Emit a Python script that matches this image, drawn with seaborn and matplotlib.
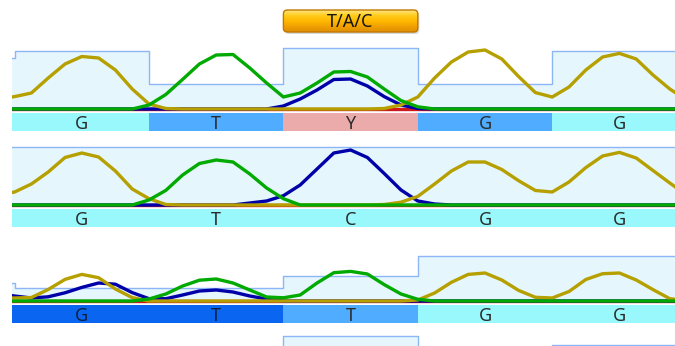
import numpy as np
import matplotlib
matplotlib.use("Agg")
import matplotlib.pyplot as plt
import seaborn as sns
from matplotlib.patches import FancyBboxPatch
from matplotlib.colors import LinearSegmentedColormap

# ---------------- data ----------------
# scan positions in base-call units (8 scans per base), first scan is left of the view
scan = np.arange(-1, 41) / 8.0

# trace heights (px above the track baseline)
t1_A = [0] * 42
t1_C = [0] * 17 + [3, 10, 19, 29.5, 30, 23, 12.4, 4, 0.5] + [0] * 16
t1_G = [10, 12.4, 16, 31, 45, 52.5, 51, 39, 20, 5, 0.5] + [0] * 12 + \
       [0.5, 4, 12, 31, 47, 57, 59, 50, 32.5, 16.4, 12, 22, 39, 52, 55.6, 50, 34, 20, 9]
t1_T = [0] * 9 + [4, 14.5, 29.6, 45, 54, 54.5, 41, 26, 12, 16, 26, 37, 37.5, 32, 20, 8.4, 2.2] + [0] * 16

t2_A = [0] * 42
t2_C = [0] * 15 + [2, 4, 9.3, 20, 36, 52, 55, 47.5, 31.5, 15, 4, 1] + [0] * 15
t2_G = [10, 13, 21, 33, 47.5, 52, 48, 34, 16, 6.3, 0.5] + [0] * 12 + \
       [0.5, 2.8, 8.6, 21, 34, 43, 43, 35.5, 24.3, 14.5, 13, 23, 37.4, 49, 52.6, 47, 34.5, 22, 10]
t2_T = [0] * 9 + [5, 14.6, 30, 41.5, 45, 43, 31, 17, 6.3] + [0] * 24

t3_A = [0] * 42
t3_C = [7, 5, 3, 4.2, 8.2, 13.6, 18, 16.8, 8.4, 2.3, 2.3, 6, 10, 11, 9, 5, 2] + [0] * 25
t3_G = [3, 3, 3.5, 11.5, 21.6, 26.6, 23.3, 12, 3.4] + [0] * 16 + \
       [1, 8, 18.7, 26.6, 28, 21, 10.6, 3.7, 3, 9.5, 21.5, 27.3, 28, 21, 11.4, 2.3, 0.5]
t3_T = [0] * 9 + [2, 7, 15, 20.8, 22, 18, 11, 4, 3.2, 6, 18, 28.3, 29.6, 27, 16.4, 7, 1.7] + [0] * 16

# per-base quality bars (px), columns -1..4
q1 = [51, 58, 25, 61, 25, 58]
q2 = [58, 58, 58, 58, 58, 58]
q3 = [18, 13, 13, 25, 45, 45]
q4 = [40, 40, 40, 61, 40, 52]

# base calls and call-band shading
calls1 = ["G", "T", "Y", "G", "G"]
calls2 = ["G", "T", "C", "G", "G"]
calls3 = ["G", "T", "T", "G", "G"]
shade1 = ["light", "mid", "het", "mid", "light"]
shade2 = ["light", "light", "light", "light", "light"]
shade3 = ["dark", "dark", "mid", "light", "light"]

button_label = "T/A/C"

# ---------------- style ----------------
sns.set_theme(style="white")
plt.rcParams["font.family"] = ["Noto Sans", "DejaVu Sans"]

trace_colors = {"A": "#D01818", "C": "#0000A8", "G": "#B5A000", "T": "#00AA00"}
band_colors = {"light": "#98F8FC", "mid": "#4FACFF", "het": "#EBABAB", "dark": "#0A66F0"}
band_text = {"light": "#2B2B2B", "mid": "#2B2B2B", "het": "#2B2B2B", "dark": "#0B2040"}
box_fill, box_edge = "#E6F6FD", "#8DB6F7"

PX_PER_BASE = 134.4
W, H = 675, 346
LEFT = 12
base0 = 109          # baseline of first track (px from top)
spacing = 96

fig = plt.figure(figsize=(W / 100, H / 100), dpi=100)
ax = fig.add_axes([LEFT / W, 0, (W - LEFT) / W, 1])
xlim = (-2.6 / PX_PER_BASE, (W - LEFT - 2.6) / PX_PER_BASE)
ax.set_xlim(*xlim)
ax.set_ylim(H, 0)
ax.axis("off")

tracks = [
    (dict(A=t1_A, C=t1_C, G=t1_G, T=t1_T), q1, calls1, shade1),
    (dict(A=t2_A, C=t2_C, G=t2_G, T=t2_T), q2, calls2, shade2),
    (dict(A=t3_A, C=t3_C, G=t3_G, T=t3_T), q3, calls3, shade3),
    (None, q4, None, None),
]

edges = np.arange(-1, 6)
for i, (traces, q, calls, shade) in enumerate(tracks):
    yb = base0 + spacing * i
    qv = np.array(q + [q[-1]], dtype=float)
    ax.fill_between(edges, yb - qv, yb, step="post", color=box_fill, lw=0, zorder=1)
    ax.step(edges, yb - qv, where="post", color=box_edge, lw=1.0, zorder=1.5)
    if calls is not None:
        cols = [band_colors[s] for s in shade]
        ax.bar([-0.5] + list(np.arange(5) + 0.5), 18, bottom=yb + 3.5, width=1.0,
               color=[cols[0]] + cols, linewidth=0, zorder=2)
        for j, (c, s) in enumerate(zip(calls, shade)):
            ax.text(j + 0.5, yb + 20, c, ha="center", va="baseline", fontsize=13,
                    color=band_text[s], zorder=3)
    if traces is not None:
        for b in ["A", "C", "G", "T"]:
            sns.lineplot(x=scan, y=yb - np.array(traces[b], dtype=float), ax=ax,
                         color=trace_colors[b], lw=2.4, estimator=None, sort=False,
                         legend=False, zorder=4, solid_joinstyle="round",
                         solid_capstyle="round")

# button over the heterozygous call
bx, bw, by, bh = 2.0, 1.0, 10, 22
r = 4 / PX_PER_BASE
shadow = FancyBboxPatch((bx + 1.5 / PX_PER_BASE, by + 2), bw, bh,
                        boxstyle=f"round,pad=0,rounding_size={r}",
                        mutation_aspect=PX_PER_BASE, fc="#000000", ec="none",
                        alpha=0.15, zorder=5)
ax.add_patch(shadow)
btn = FancyBboxPatch((bx, by), bw, bh, boxstyle=f"round,pad=0,rounding_size={r}",
                     mutation_aspect=PX_PER_BASE, fc="none", ec="#C07800", lw=1.0, zorder=7)
ax.add_patch(btn)
cmap = LinearSegmentedColormap.from_list("btn", ["#FFE680", "#FFCC1A", "#FFB800", "#F0A000", "#E09000"])
grad = np.linspace(0, 1, 64).reshape(-1, 1)
im = ax.imshow(grad, extent=(bx, bx + bw, by + bh, by), aspect="auto", cmap=cmap,
               zorder=6, interpolation="bilinear")
im.set_clip_path(btn)
ax.text(bx + bw / 2, by + 17, button_label, ha="center", va="baseline", fontsize=13,
        color="#151515", zorder=8)

ax.set_xlim(*xlim)
ax.set_ylim(H, 0)
fig.savefig("out.png", dpi=100)
